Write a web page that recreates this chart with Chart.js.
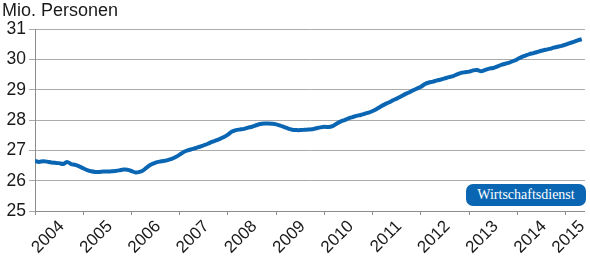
<!DOCTYPE html>
<html>
<head>
<meta charset="utf-8">
<script src="https://cdn.jsdelivr.net/npm/chart.js@4/dist/chart.umd.min.js"></script>
<style>
  html, body { margin: 0; padding: 0; background: #fff; }
  #wrap { position: relative; width: 590px; height: 262px; }
  #badge {
    position: absolute; left: 466px; top: 184px; width: 120px; height: 22px;
    background: #0a66b2; color: #fff; border-radius: 7px;
    font: 14px "Liberation Serif", "DejaVu Serif", serif; line-height: 22px; text-align: center;
  }
</style>
</head>
<body>
<div id="wrap">
  <canvas id="c" width="590" height="262"></canvas>
  <div id="badge">Wirtschaftsdienst</div>
</div>
<script>
// Tick labels (years)
const yearLabels = ['2004','2005','2006','2007','2008','2009','2010','2011','2012','2013','2014','2015'];
// Monthly values, Mio. Personen, Jan 2004 - May 2015
const v2004 = [26.65, 26.62, 26.64, 26.63, 26.60, 26.59, 26.58, 26.55, 26.62, 26.55, 26.52, 26.47];
const v2005 = [26.41, 26.35, 26.31, 26.29, 26.29, 26.30, 26.30, 26.31, 26.32, 26.34, 26.37, 26.36];
const v2006 = [26.32, 26.27, 26.29, 26.35, 26.46, 26.54, 26.60, 26.63, 26.65, 26.68, 26.72, 26.78];
const v2007 = [26.86, 26.95, 27.00, 27.04, 27.08, 27.12, 27.17, 27.22, 27.28, 27.33, 27.38, 27.44];
const v2008 = [27.52, 27.62, 27.67, 27.69, 27.71, 27.75, 27.78, 27.83, 27.87, 27.89, 27.89, 27.88];
const v2009 = [27.86, 27.82, 27.77, 27.72, 27.68, 27.67, 27.67, 27.68, 27.69, 27.70, 27.73, 27.76];
const v2010 = [27.78, 27.77, 27.80, 27.88, 27.95, 28.00, 28.06, 28.10, 28.14, 28.17, 28.21, 28.25];
const v2011 = [28.30, 28.37, 28.45, 28.52, 28.58, 28.65, 28.71, 28.78, 28.85, 28.91, 28.98, 29.04];
const v2012 = [29.10, 29.19, 29.24, 29.27, 29.31, 29.34, 29.38, 29.42, 29.45, 29.51, 29.56, 29.58];
const v2013 = [29.60, 29.64, 29.65, 29.61, 29.66, 29.70, 29.72, 29.77, 29.82, 29.86, 29.90, 29.95];
const v2014 = [30.01, 30.08, 30.13, 30.18, 30.21, 30.25, 30.29, 30.32, 30.35, 30.39, 30.42, 30.45];
const v2015 = [30.49, 30.54, 30.58, 30.63, 30.67];

const yearSeries = [v2004, v2005, v2006, v2007, v2008, v2009, v2010, v2011, v2012, v2013, v2014, v2015];
const points = [];
yearSeries.forEach((arr, yi) => {
  arr.forEach((v, m) => points.push({ x: Number(yearLabels[yi]) + m / 12, y: v }));
});

const firstYear = Number(yearLabels[0]);
const lastYear = Number(yearLabels[yearLabels.length - 1]);
const xMax = lastYear + 0.4;
const labelPos = yearLabels.map(y => Math.min(Number(y) + 0.55, xMax - 0.06));

const GRID = '#ababab';
const AXIS = '#8c8c8c';
const FONT = '"Liberation Sans", Arial, Helvetica, sans-serif';

new Chart(document.getElementById('c'), {
  type: 'line',
  data: {
    datasets: [{
      data: points,
      borderColor: '#0a66b2',
      borderWidth: 4,
      pointRadius: 0,
      tension: 0.2,
      fill: false,
      xAxisID: 'x',
      yAxisID: 'y'
    }]
  },
  options: {
    responsive: false,
    animation: false,
    events: [],
    layout: { padding: { top: 0.6, left: 2, right: 5, bottom: 0 } },
    plugins: {
      legend: { display: false },
      tooltip: { enabled: false },
      title: {
        display: true, text: 'Mio. Personen', align: 'start', color: '#1a1a1a',
        font: { family: FONT, size: 18, weight: 'normal' },
        padding: { top: 0, bottom: 7 }
      }
    },
    scales: {
      x: {
        type: 'linear', position: 'bottom', weight: 0,
        min: firstYear, max: xMax,
        afterBuildTicks: (s) => { s.ticks = yearLabels.map(y => ({ value: Number(y) })); },
        afterFit: (s) => { s.height = 4; },
        ticks: { display: false },
        grid: { drawOnChartArea: false, drawTicks: true, tickLength: 4, color: AXIS },
        border: { display: true, color: AXIS, width: 1 }
      },
      x2: {
        type: 'linear', position: 'bottom', weight: 1,
        min: firstYear, max: xMax,
        afterBuildTicks: (s) => { s.ticks = labelPos.map(v => ({ value: v })); },
        afterFit: (s) => { s.height = 47; },
        grid: { display: false },
        border: { display: false },
        ticks: {
          autoSkip: false, minRotation: 45, maxRotation: 45, padding: -6.5,
          color: '#1a1a1a', font: { family: FONT, size: 17 },
          callback: (v, i) => yearLabels[i]
        }
      },
      y: {
        min: 25, max: 31,
        afterFit: (s) => { s.width = 33; },
        ticks: { stepSize: 1, padding: 3, color: '#1a1a1a', font: { family: FONT, size: 17.5 } },
        grid: { color: GRID, lineWidth: 1, tickLength: 6 },
        border: { display: true, color: AXIS, width: 1 }
      }
    }
  }
});
</script>
</body>
</html>
